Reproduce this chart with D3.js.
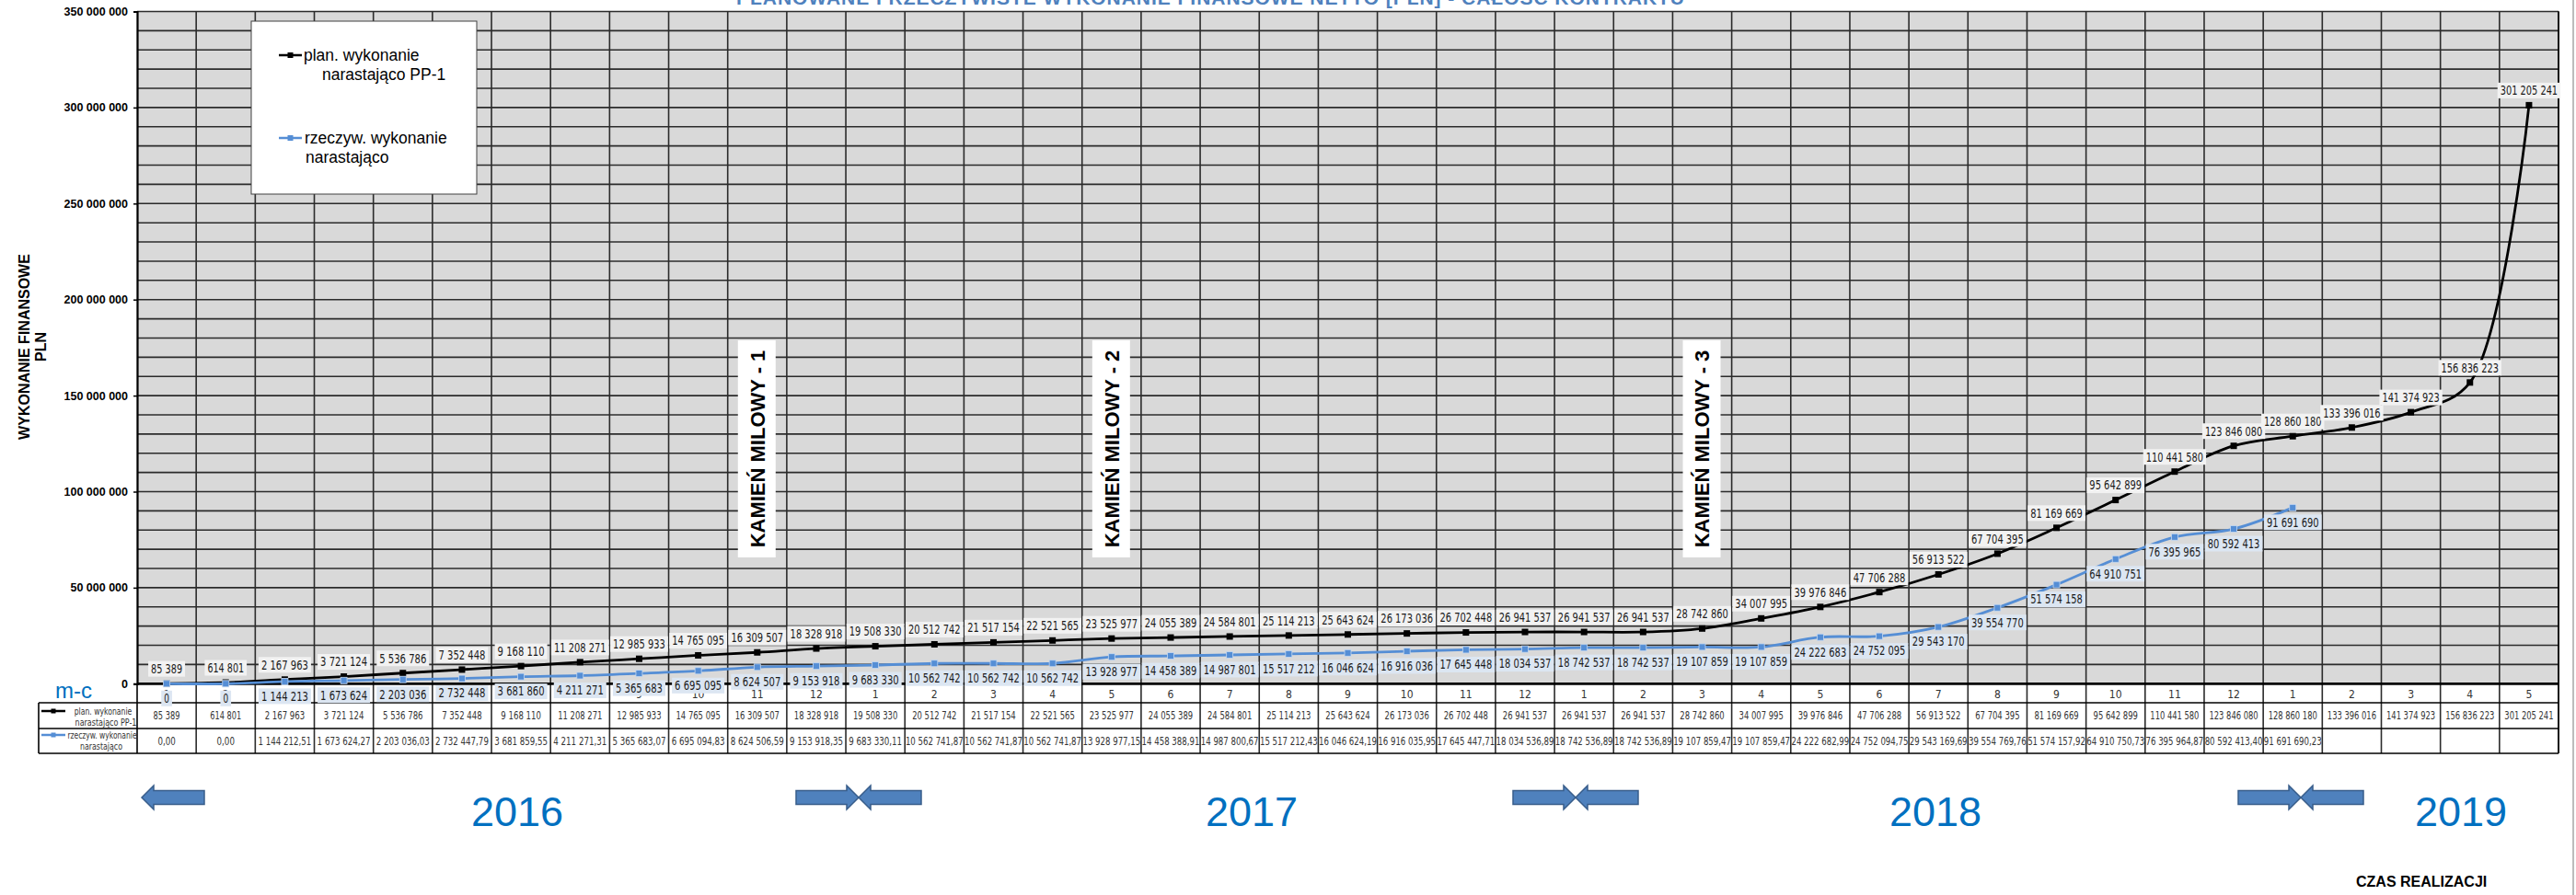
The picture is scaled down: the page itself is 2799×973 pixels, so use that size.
<!DOCTYPE html>
<html>
<head>
<meta charset="utf-8">
<script src="https://cdn.jsdelivr.net/npm/d3@7"></script>
<style>
  body { margin: 0; background: #fff; }
  svg { display: block; }
</style>
</head>
<body>
<svg id="chart" width="2799" height="973"></svg>
<script>
// month numbers along the x axis (2016-01 .. 2019-05)
var months = [1,2,3,4,5,6,7,8,9,10,11,12, 1,2,3,4,5,6,7,8,9,10,11,12, 1,2,3,4,5,6,7,8,9,10,11,12, 1,2,3,4,5];

// planned cumulative spending PP-1 [PLN]
var planValues = [85389, 614801, 2167963, 3721124, 5536786, 7352448, 9168110, 11208271, 12985933, 14765095,
  16309507, 18328918, 19508330, 20512742, 21517154, 22521565, 23525977, 24055389, 24584801, 25114213,
  25643624, 26173036, 26702448, 26941537, 26941537, 26941537, 28742860, 34007995, 39976846, 47706288,
  56913522, 67704395, 81169669, 95642899, 110441580, 123846080, 128860180, 133396016, 141374923, 156836223,
  301205241];

// actual cumulative spending [PLN]
var actualValues = [0, 0, 1144212.51, 1673624.27, 2203036.03, 2732447.79, 3681859.55, 4211271.31, 5365683.07, 6695094.83,
  8624506.59, 9153918.35, 9683330.11, 10562741.87, 10562741.87, 10562741.87, 13928977.15, 14458388.91, 14987800.67, 15517212.43,
  16046624.19, 16916035.95, 17645447.71, 18034536.89, 18742536.89, 18742536.89, 19107859.47, 19107859.47, 24222682.99, 24752094.75,
  29543169.69, 39554769.76, 51574157.92, 64910750.73, 76395964.87, 80592413.40, 91691690.23];

var yTicks = [0, 50e6, 100e6, 150e6, 200e6, 250e6, 300e6, 350e6];
var years = ["2016", "2017", "2018", "2019"];
var milestoneNames = ["KAMIEŃ MILOWY - 1", "KAMIEŃ MILOWY - 2", "KAMIEŃ MILOWY - 3"];
var milestoneCols = [10, 16, 26];
var seriesNames = [["plan. wykonanie", "narastająco PP-1"], ["rzeczyw. wykonanie", "narastająco"]];

var planColor = "#000000";
var actualColor = "#558ed5";
var blueText = "#0070c0";
var narrow = "'Liberation Sans Narrow', 'DejaVu Sans Condensed', 'Liberation Sans', sans-serif";
var sans = "'Liberation Sans', Arial, sans-serif";

var plotLeft = 149, plotRight = 2780, plotTop = 12.5, zeroY = 743.3;
var tableLeft = 42, monthBottom = 764, row1Bottom = 792, row2Bottom = 819;

var loc = d3.formatLocale({decimal: ",", thousands: " ", grouping: [3], currency: ["", ""]});
var fmtInt = loc.format(",.0f");
var fmtDec = loc.format(",.2f");

var svg = d3.select("#chart");

var x = d3.scaleBand().domain(d3.range(months.length)).range([plotLeft, plotRight]).padding(0);
var y = d3.scaleLinear().domain([0, 350e6]).range([zeroY, plotTop]);
var cx = function(i) { return x(i) + x.bandwidth() / 2; };
var edge = function(i) { return i < months.length ? x(i) : plotRight; };

// squeeze a text to a narrow width if the narrow font is missing
function squeeze(sel, ratio) {
  sel.each(function() {
    var t = d3.select(this);
    var n = t.text().length;
    var w = this.getComputedTextLength();
    var fs = parseFloat(t.style("font-size"));
    var maxW = n * fs * ratio;
    if (w > maxW) t.attr("textLength", maxW).attr("lengthAdjust", "spacingAndGlyphs");
  });
}

// title (cut off at the top edge)
svg.append("text")
    .attr("x", 1315).attr("y", 4.5)
    .attr("text-anchor", "middle")
    .attr("textLength", 1030)
    .style("font-family", sans).style("font-weight", "bold").style("font-size", "21px")
    .style("fill", "#4f81bd")
    .text("PLANOWANE I RZECZYWISTE WYKONANIE FINANSOWE NETTO [PLN] - CAŁOŚĆ KONTRAKTU");

// frame line on the right
svg.append("line").attr("x1", 2796).attr("x2", 2796).attr("y1", 0).attr("y2", 973)
    .attr("stroke", "#a6a6a6").attr("stroke-width", 1.5);

// plot background
svg.append("rect")
    .attr("x", plotLeft).attr("y", plotTop)
    .attr("width", plotRight - plotLeft).attr("height", zeroY - plotTop)
    .attr("fill", "#d9d9d9").attr("stroke", "#bfbfbf");

// horizontal grid every 10M
svg.append("g").selectAll("line")
    .data(d3.range(10e6, 350e6 + 1, 10e6))
    .join("line")
    .attr("x1", plotLeft).attr("x2", plotRight)
    .attr("y1", d => y(d)).attr("y2", d => y(d))
    .attr("stroke", "#2b2b2b").attr("stroke-width", 1.6);

// vertical grid at column boundaries (through month row and table)
svg.append("g").selectAll("line")
    .data(d3.range(1, months.length + 1))
    .join("line")
    .attr("x1", d => edge(d)).attr("x2", d => edge(d))
    .attr("y1", plotTop).attr("y2", row2Bottom)
    .attr("stroke", "#2b2b2b").attr("stroke-width", 1.6);

// y axis
var yAxis = d3.axisLeft(y).tickValues(yTicks).tickSize(4).tickPadding(6)
    .tickFormat(d => d === 0 ? "0" : fmtInt(d));
var gy = svg.append("g").attr("transform", "translate(" + plotLeft + ",0)").call(yAxis);
gy.select(".domain").attr("stroke", "#000").attr("stroke-width", 2.2);
gy.selectAll(".tick line").attr("stroke", "#000").attr("stroke-width", 1.5);
gy.selectAll(".tick text")
    .style("font-family", sans).style("font-weight", "bold").style("font-size", "12.5px").attr("fill", "#000");

// y title
var yt = svg.append("text")
    .attr("transform", "translate(31.5,377) rotate(-90)")
    .attr("text-anchor", "middle")
    .style("font-family", sans).style("font-weight", "bold").style("font-size", "16px");
yt.append("tspan").attr("x", 0).attr("y", 0).text("WYKONANIE FINANSOWE");
yt.append("tspan").attr("x", 0).attr("y", 18.5).text("PLN");

// table: horizontal lines
svg.append("g").selectAll("line")
    .data([monthBottom, row1Bottom, row2Bottom])
    .join("line")
    .attr("x1", tableLeft).attr("x2", plotRight)
    .attr("y1", d => d).attr("y2", d => d)
    .attr("stroke", "#000").attr("stroke-width", 1.6);
svg.append("line").attr("x1", tableLeft).attr("x2", tableLeft).attr("y1", monthBottom).attr("y2", row2Bottom)
    .attr("stroke", "#000").attr("stroke-width", 1.6);
svg.append("line").attr("x1", plotLeft).attr("x2", plotLeft).attr("y1", zeroY).attr("y2", row2Bottom)
    .attr("stroke", "#000").attr("stroke-width", 1.6);
svg.append("line").attr("x1", plotRight).attr("x2", plotRight).attr("y1", plotTop).attr("y2", row2Bottom)
    .attr("stroke", "#000").attr("stroke-width", 1.6);

// month labels
svg.append("g").selectAll("text")
    .data(months)
    .join("text")
    .attr("x", (d, i) => cx(i)).attr("y", 758.5)
    .attr("text-anchor", "middle")
    .style("font-family", narrow).style("font-size", "12px").attr("fill", "#333")
    .text(d => d);

// table values
var t1 = svg.append("g").selectAll("text")
    .data(planValues)
    .join("text")
    .attr("x", (d, i) => cx(i)).attr("y", 782)
    .attr("text-anchor", "middle")
    .style("font-family", narrow).style("font-size", "11.5px").attr("fill", "#333")
    .text(d => fmtInt(d));
var t2 = svg.append("g").selectAll("text")
    .data(actualValues)
    .join("text")
    .attr("x", (d, i) => cx(i)).attr("y", 809.5)
    .attr("text-anchor", "middle")
    .style("font-family", narrow).style("font-size", "11.5px").attr("fill", "#333")
    .text(d => fmtDec(d));
squeeze(t1, 0.42);
squeeze(t2, 0.42);

// table key column
function keyMarker(g, x0, x1, yy, color, size) {
  g.append("line").attr("x1", x0).attr("x2", x1).attr("y1", yy).attr("y2", yy)
      .attr("stroke", color).attr("stroke-width", 2.5);
  g.append("rect").attr("x", (x0 + x1) / 2 - size / 2).attr("y", yy - size / 2)
      .attr("width", size).attr("height", size).attr("fill", color);
}
var key = svg.append("g");
keyMarker(key, 45, 71, 773, planColor, 5);
keyMarker(key, 45, 71, 799, actualColor, 5);
[[112, 776.5], [115, 788.5]].forEach(function(p, j) {
  key.append("text").attr("x", p[0]).attr("y", p[1]).attr("text-anchor", "middle")
      .style("font-family", narrow).style("font-size", "11px").attr("fill", "#333")
      .text(seriesNames[0][j]);
});
[[111, 802.5], [110, 815]].forEach(function(p, j) {
  key.append("text").attr("x", p[0]).attr("y", p[1]).attr("text-anchor", "middle")
      .style("font-family", narrow).style("font-size", "11px").attr("fill", "#333")
      .text(seriesNames[1][j]);
});
squeeze(key.selectAll("text"), 0.38);

// x axis line (0)
svg.append("line").attr("x1", plotLeft).attr("x2", plotRight).attr("y1", zeroY).attr("y2", zeroY)
    .attr("stroke", "#000").attr("stroke-width", 2.8);

// milestones
var ms = svg.append("g").selectAll("g")
    .data(milestoneNames)
    .join("g")
    .attr("transform", (d, i) => "translate(" + cx(milestoneCols[i]) + ",488)");
ms.append("rect").attr("x", -21).attr("y", -118).attr("width", 41).attr("height", 236).attr("fill", "#fff");
ms.append("text")
    .attr("transform", "translate(7.8,0) rotate(-90)")
    .attr("text-anchor", "middle")
    .style("font-family", sans).style("font-weight", "bold").style("font-size", "22px")
    .text(d => d);

// series lines (smoothed like the spreadsheet)
var line = d3.line()
    .x((d, i) => cx(i))
    .y(d => y(d))
    .curve(d3.curveCatmullRom.alpha(0.5));

svg.append("path").datum(planValues).attr("d", line)
    .attr("fill", "none").attr("stroke", planColor).attr("stroke-width", 2.8);
svg.append("path").datum(actualValues).attr("d", line)
    .attr("fill", "none").attr("stroke", actualColor).attr("stroke-width", 2.8);

svg.append("g").selectAll("rect")
    .data(planValues)
    .join("rect")
    .attr("x", (d, i) => cx(i) - 3.5).attr("y", d => y(d) - 3.5)
    .attr("width", 7).attr("height", 7)
    .attr("fill", planColor);
svg.append("g").selectAll("rect")
    .data(actualValues)
    .join("rect")
    .attr("x", (d, i) => cx(i) - 3.5).attr("y", d => y(d) - 3.5)
    .attr("width", 7).attr("height", 7)
    .attr("fill", actualColor).attr("stroke", "#c6d9f1").attr("stroke-width", 0.8);

// data labels
function dataLabels(values, dy, bg) {
  var g = svg.append("g").selectAll("g")
      .data(values)
      .join("g")
      .attr("transform", (d, i) => "translate(" + cx(i) + "," + (y(d) + dy) + ")");
  g.append("rect").attr("fill", bg);
  var t = g.append("text")
      .attr("text-anchor", "middle").attr("y", 4.8)
      .style("font-family", narrow).style("font-size", "13.5px").attr("fill", "#1a1a1a")
      .text(d => fmtInt(d));
  squeeze(t, 0.42);
  t.each(function() {
    var w = this.getAttribute("textLength") ? +this.getAttribute("textLength") : this.getComputedTextLength();
    d3.select(this.previousSibling)
        .attr("x", -w / 2 - 3).attr("y", -8.5)
        .attr("width", w + 6).attr("height", 17);
  });
}
dataLabels(planValues, -16, "#f2f2f2");
dataLabels(actualValues, 16, "#dce6f2");

// top legend
var lg = svg.append("g");
lg.append("rect").attr("x", 273).attr("y", 23).attr("width", 245).attr("height", 188)
    .attr("fill", "#fff").attr("stroke", "#404040").attr("stroke-width", 1);
keyMarker(lg, 303, 328, 60, planColor, 6);
keyMarker(lg, 303, 328, 150, actualColor, 6);
[[330, 65.5], [350, 86.5]].forEach(function(p, j) {
  lg.append("text").attr("x", p[0]).attr("y", p[1])
      .style("font-family", sans).style("font-size", "17.5px").attr("fill", "#000")
      .text(seriesNames[0][j]);
});
[[331, 155.5], [332, 176.5]].forEach(function(p, j) {
  lg.append("text").attr("x", p[0]).attr("y", p[1])
      .style("font-family", sans).style("font-size", "17.5px").attr("fill", "#000")
      .text(seriesNames[1][j]);
});

// "m-c"
svg.append("text").attr("x", 60).attr("y", 759)
    .style("font-family", sans).style("font-size", "24px").attr("fill", blueText)
    .text("m-c");

// block arrows
function arrowPath(tip, dir) {
  // dir = -1 points left, +1 points right; 68 px long
  var head = 13, len = 68, sh = 7.5, hh = 13;
  var base = tip - dir * head, tail = tip - dir * len;
  return "M" + tip + ",867" +
    "L" + base + "," + (867 - hh) + "L" + base + "," + (867 - sh) +
    "L" + tail + "," + (867 - sh) + "L" + tail + "," + (867 + sh) +
    "L" + base + "," + (867 + sh) + "L" + base + "," + (867 + hh) + "Z";
}
var arrowTips = [[154, -1], [933, 1], [933, -1], [1712, 1], [1712, -1], [2500, 1], [2500, -1]];
svg.append("g").selectAll("path")
    .data(arrowTips)
    .join("path")
    .attr("d", d => arrowPath(d[0], d[1]))
    .attr("fill", "#4f81bd").attr("stroke", "#385d8a").attr("stroke-width", 1.5);

// year labels
var yearX = [562, 1360, 2103, 2674];
svg.append("g").selectAll("text")
    .data(years)
    .join("text")
    .attr("x", (d, i) => yearX[i]).attr("y", 898)
    .attr("text-anchor", "middle")
    .style("font-family", sans).style("font-size", "45px").attr("fill", blueText)
    .text(d => d);

// x title
svg.append("text").attr("x", 2560).attr("y", 964)
    .style("font-family", sans).style("font-weight", "bold").style("font-size", "16px")
    .text("CZAS REALIZACJI");
</script>
</body>
</html>
